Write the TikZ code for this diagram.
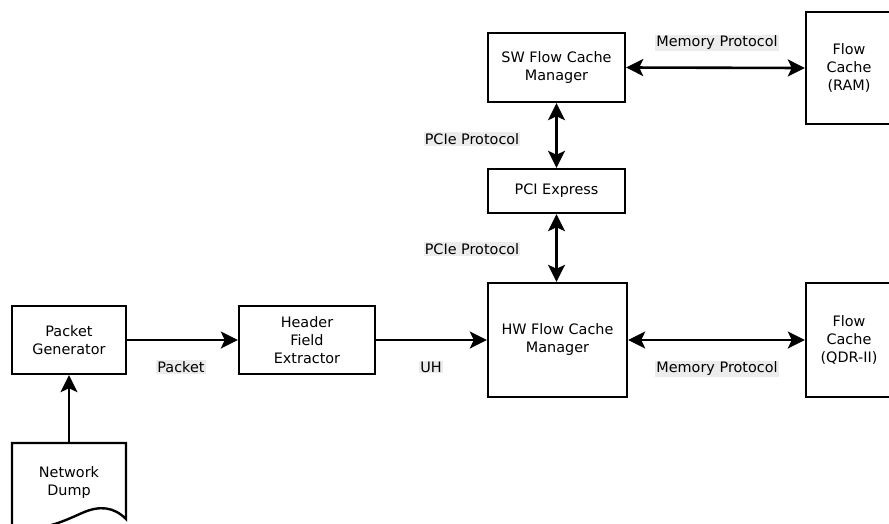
\documentclass[tikz,border=0pt]{standalone}
\usepackage{fontspec}
\setmainfont{DejaVu Sans}
\usetikzlibrary{arrows.meta}
\definecolor{lblbg}{RGB}{236,236,236}
\tikzset{
  blk/.style={draw, line width=2.4pt, align=center, inner sep=0pt},
  lbl/.style={fill=lblbg, inner sep=1pt},
  tip/.tip={Stealth[length=17pt,width=17pt,inset=4pt]},
  con/.style={line width=2.6pt, -tip},
  bicon/.style={line width=2.6pt, tip-tip},
}
\begin{document}
\begin{tikzpicture}[x=1pt,y=-1pt,font=\fontsize{14.4}{18}\selectfont]
\useasboundingbox (0,0) rectangle (889,523);
\clip (0,0) rectangle (889,523);
% blocks
\node[blk, minimum width=114pt, minimum height=68pt] (pg) at (69,340) {Packet\\Generator};
\node[blk, minimum width=136pt, minimum height=68pt] (hfe) at (307,340) {Header\\Field\\Extractor};
\node[blk, minimum width=139pt, minimum height=114pt] (hw) at (557.5,340) {HW Flow Cache\\Manager};
\node[blk, minimum width=86pt, minimum height=114pt] (qdr) at (849,340) {Flow\\Cache\\(QDR-II)};
\node[blk, minimum width=137pt, minimum height=69pt] (sw) at (556.5,67.5) {SW Flow Cache\\Manager};
\node[blk, minimum width=86pt, minimum height=112pt] (ram) at (849,68) {Flow\\Cache\\(RAM)};
\node[blk, minimum width=137pt, minimum height=44pt] (pci) at (556.5,191) {PCI Express};
% network dump (document shape)
\node[align=center, inner sep=0pt, minimum width=114pt, minimum height=80pt] (dump) at (69,483) {Network\\Dump};
\draw[line width=2.4pt, line join=miter] (12,530) -- (12,443) -- (126,443) -- (126,519)
  .. controls (114,507) and (100,505) .. (82,513)
  .. controls (62,522) and (40,532) .. (20,526);
% connectors
\draw[con] (dump.north) -- (pg.south);
\draw[con] (pg.east) -- (hfe.west);
\draw[con] (hfe.east) -- (hw.west);
\draw[bicon] (hw.east) -- (qdr.west);
\draw[bicon] (sw.east) -- (ram.west);
\draw[bicon] (sw.south) -- (pci.north);
\draw[bicon] (pci.south) -- (hw.north -| pci.south);
% labels
\node[lbl] (lpk) at (181,367) {Packet};
\node[lbl] (luh) at (431,367) {UH};
\node[lbl] (lm1) at (717,369) {Memory Protocol};
\node[lbl] (lm2) at (717,43) {Memory Protocol};
\node[lbl] (lp1) at (472,139) {PCIe Protocol};
\node[lbl] (lp2) at (472,249) {PCIe Protocol};
\end{tikzpicture}
\end{document}
